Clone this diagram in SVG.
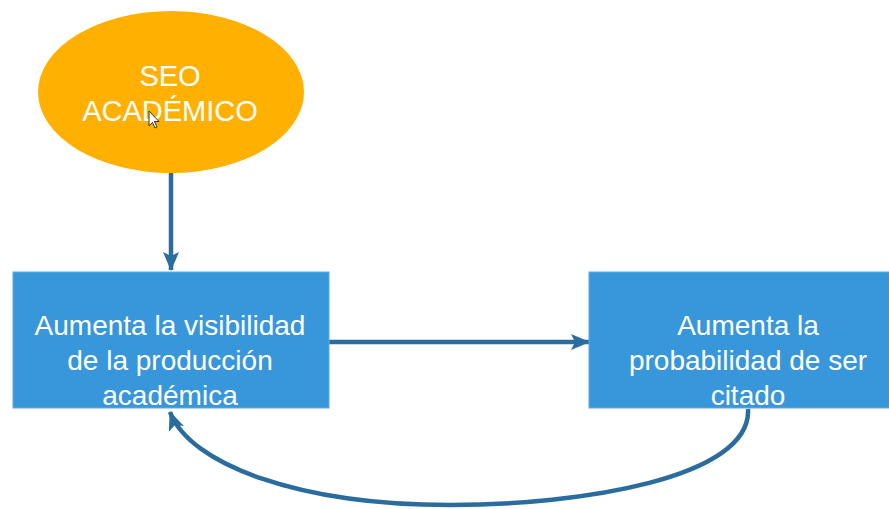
<svg xmlns="http://www.w3.org/2000/svg" width="889" height="509" viewBox="0 0 889 509">
<defs>
<style>
.lbl{font-family:"Liberation Sans",Arial,sans-serif;font-size:28px;fill:#ffffff;text-anchor:middle}
.big{font-size:29px}
.box{fill:#3797DA;stroke:#5aa9e2;stroke-width:1}
.conn{fill:none;stroke:#2A6C9E;stroke-width:4.5}
</style>
<marker id="ah" markerUnits="userSpaceOnUse" markerWidth="20" markerHeight="20" viewBox="0 0 20 20" refX="18" refY="10" orient="auto">
<path d="M0,2 L19,10 L0,18 L4,10 Z" fill="#2A6C9E"/>
</marker>
</defs>
<rect width="889" height="509" fill="#ffffff"/>
<g id="connectors">
<path class="conn" d="M171,173 L171,270" marker-end="url(#ah)"/>
<path class="conn" d="M329,342 L589,342" marker-end="url(#ah)"/>
<path class="conn" d="M748,409 C752,478 580,505 450,505 C300,505 190,465 170,412" marker-end="url(#ah)"/>
</g>
<g id="seo">
<ellipse cx="171" cy="92" rx="133" ry="81" fill="#FFB000"/>
<text class="lbl big" x="170" y="86">SEO</text>
<text class="lbl big" x="170" y="121">ACADÉMICO</text>
</g>
<g id="visibilidad">
<rect class="box" x="13" y="272" width="316" height="136"/>
<text class="lbl" x="170" y="335">Aumenta la visibilidad</text>
<text class="lbl" x="170" y="370">de la producción</text>
<text class="lbl" x="170" y="405">académica</text>
</g>
<g id="citado">
<rect class="box" x="589" y="272" width="310" height="136"/>
<text class="lbl" x="748" y="335">Aumenta la</text>
<text class="lbl" x="748" y="370">probabilidad de ser</text>
<text class="lbl" x="748" y="405">citado</text>
</g>
<g id="cursor">
<path d="M149,111 L149,126 L152.5,122.5 L155,128 L157,127 L154.5,121.5 L159,121.5 Z" fill="#ffffff" stroke="#333333" stroke-width="1"/>
</g>
</svg>
